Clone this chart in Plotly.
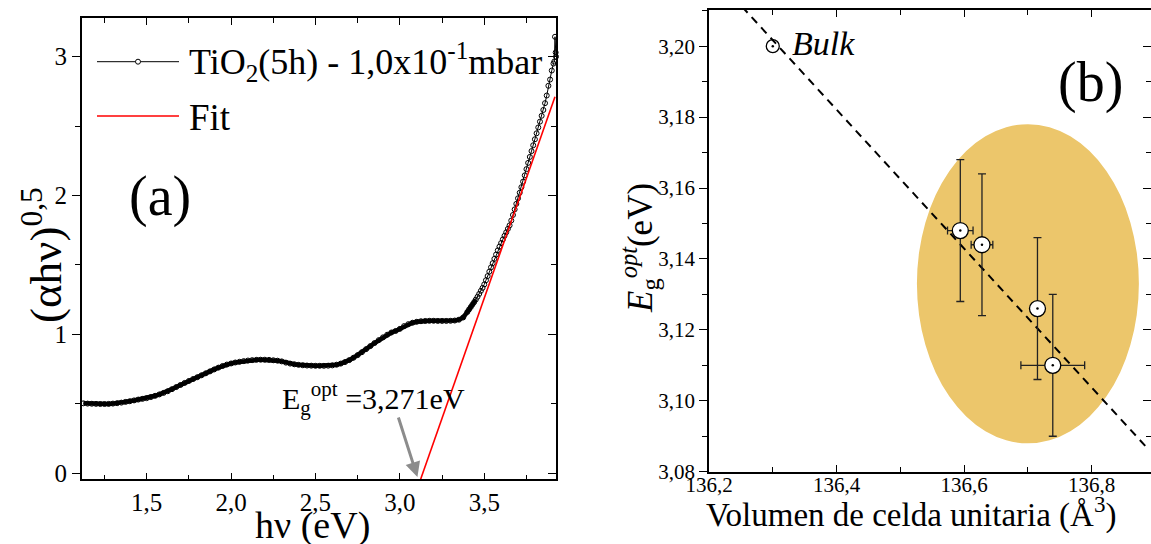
import plotly.graph_objects as go

W, H = 1151, 544
FONT = "Liberation Serif"

# ---------------- Panel (a) data ----------------
hv = [1.125, 1.15, 1.175, 1.20, 1.225, 1.25, 1.275, 1.30, 1.325, 1.35, 1.375, 1.40,
      1.425, 1.45, 1.475, 1.50, 1.525, 1.55, 1.575, 1.60, 1.625, 1.65, 1.675, 1.70,
      1.725, 1.75, 1.775, 1.80, 1.825, 1.85, 1.875, 1.90, 1.925, 1.95, 1.975, 2.00,
      2.025, 2.05, 2.075, 2.10, 2.125, 2.15, 2.175, 2.20, 2.225, 2.25, 2.275, 2.30,
      2.325, 2.35, 2.375, 2.40, 2.425, 2.45, 2.475, 2.50, 2.525, 2.55, 2.575, 2.60,
      2.625, 2.65, 2.675, 2.70, 2.725, 2.75, 2.775, 2.80, 2.825, 2.85, 2.875, 2.90,
      2.925, 2.95, 2.975, 3.00, 3.025, 3.05, 3.075, 3.10, 3.125, 3.15, 3.175, 3.20,
      3.225, 3.25, 3.275, 3.30, 3.325, 3.35, 3.375, 3.40,
      3.41, 3.42, 3.43, 3.44, 3.45, 3.46, 3.47, 3.48, 3.49, 3.50, 3.51, 3.52, 3.53,
      3.54, 3.55, 3.56, 3.57, 3.58, 3.59, 3.60, 3.61, 3.62, 3.63, 3.64, 3.65, 3.66,
      3.67, 3.68, 3.69, 3.70, 3.71, 3.72, 3.73, 3.74, 3.75, 3.76, 3.77, 3.78, 3.79,
      3.80, 3.81, 3.82, 3.83, 3.84, 3.85, 3.86, 3.87, 3.88, 3.89, 3.90, 3.91, 3.915,
      3.919, 3.923, 3.925]
ahv = [0.504, 0.502, 0.501, 0.500, 0.499, 0.499, 0.500, 0.502, 0.505, 0.509, 0.514, 0.519,
       0.525, 0.531, 0.536, 0.541, 0.549, 0.558, 0.568, 0.579, 0.591, 0.606, 0.621, 0.636,
       0.651, 0.665, 0.679, 0.692, 0.706, 0.720, 0.734, 0.748, 0.761, 0.773, 0.783, 0.791,
       0.798, 0.803, 0.808, 0.812, 0.815, 0.817, 0.818, 0.818, 0.817, 0.814, 0.811, 0.806,
       0.797, 0.790, 0.785, 0.781, 0.778, 0.776, 0.775, 0.774, 0.774, 0.774, 0.775, 0.777,
       0.782, 0.790, 0.801, 0.815, 0.832, 0.851, 0.872, 0.894, 0.916, 0.938, 0.959, 0.979,
       0.998, 1.014, 1.025, 1.040, 1.060, 1.074, 1.084, 1.091, 1.095, 1.097, 1.098, 1.098,
       1.097, 1.097, 1.097, 1.098, 1.100, 1.106, 1.122, 1.162,
       1.180, 1.197, 1.215, 1.232, 1.251, 1.271, 1.292, 1.314, 1.335, 1.360, 1.390, 1.420,
       1.452, 1.483, 1.513, 1.544, 1.575, 1.605, 1.632, 1.658, 1.684, 1.710, 1.735, 1.760,
       1.785, 1.820, 1.860, 1.900, 1.940, 1.980, 2.020, 2.060, 2.100, 2.145, 2.190, 2.235,
       2.278, 2.320, 2.362, 2.405, 2.448, 2.490, 2.532, 2.574, 2.616, 2.665, 2.720, 2.790,
       2.835, 2.900, 2.950, 2.965, 3.143, 3.030, 3.000]
dense_until = 3.45          # points below this energy are packed so tightly they form a band
fit_a_x = [3.123, 3.919]
fit_a_y = [-0.043, 2.711]
series_a_name = "TiO<sub>2</sub>(5h) - 1,0x10<sup>-1</sup>mbar"
fit_name = "Fit"
eg_label = "E<sub>g</sub><sup>opt</sup> =3,271eV"
eg_arrow_at = (3.104, -0.027)

# ---------------- Panel (b) data ----------------
vol = [136.594, 136.628, 136.715, 136.739]
eg = [3.148, 3.144, 3.126, 3.110]
eg_err = [0.020, 0.020, 0.020, 0.020]
vol_err = [0.020, 0.017, 0.0, 0.050]
bulk_vol = [136.300]
bulk_eg = [3.200]
trend_x = [136.252, 136.888]
trend_y = [3.2111, 3.0865]
ellipse_x = [136.526, 136.874]
ellipse_y = [3.088, 3.178]


def px(x, y):
    return x / W, 1 - y / H


fig = go.Figure()

# ---- panel (a) traces
band_x = [v for v in hv if v <= dense_until]
band_y = [a for v, a in zip(hv, ahv) if v <= dense_until]
fig.add_trace(go.Scatter(
    x=band_x, y=band_y, mode="lines", xaxis="x", yaxis="y",
    line=dict(color="black", width=4.5), showlegend=False))
fig.add_trace(go.Scatter(
    x=hv, y=ahv, mode="lines+markers", xaxis="x", yaxis="y",
    line=dict(color="black", width=1),
    marker=dict(symbol="circle-open", size=5, color="black", line=dict(width=1)),
    showlegend=False, cliponaxis=False))
fig.add_trace(go.Scatter(
    x=fit_a_x, y=fit_a_y, mode="lines", xaxis="x", yaxis="y",
    line=dict(color="red", width=1.6), showlegend=False))
fig.add_trace(go.Scatter(x=[], y=[], xaxis="x", yaxis="y3", showlegend=False))

# ---- panel (b) traces
fig.add_trace(go.Scatter(
    x=trend_x, y=trend_y, mode="lines", xaxis="x2", yaxis="y2",
    line=dict(color="black", width=2, dash="8px,6px"), showlegend=False))
fig.add_trace(go.Scatter(
    x=bulk_vol, y=bulk_eg, mode="markers", xaxis="x2", yaxis="y2",
    marker=dict(symbol="circle-open", size=13, color="black", line=dict(width=1.3)),
    showlegend=False))
fig.add_trace(go.Scatter(
    x=vol, y=eg, mode="markers", xaxis="x2", yaxis="y2",
    error_y=dict(type="data", array=eg_err, color="#222222", thickness=1.3, width=4),
    error_x=dict(type="data", array=vol_err, color="#222222", thickness=1.3, width=4),
    marker=dict(symbol="circle", size=16, color="white", line=dict(color="black", width=1.3)),
    showlegend=False))
fig.add_trace(go.Scatter(
    x=vol + bulk_vol, y=eg + bulk_eg, mode="markers", xaxis="x2", yaxis="y2",
    marker=dict(symbol="circle", size=2.5, color="black"), showlegend=False))
fig.add_trace(go.Scatter(x=[], y=[], xaxis="x2", yaxis="y4", showlegend=False))

axis_common = dict(showgrid=False, zeroline=False, showline=True, linecolor="black",
                   linewidth=1.5, tickcolor="black", tickwidth=1.3, automargin=False)

shapes = [
    dict(type="circle", xref="x2", yref="y2", x0=ellipse_x[0], x1=ellipse_x[1],
         y0=ellipse_y[0], y1=ellipse_y[1], fillcolor="#ECC66B",
         line=dict(width=0), layer="below"),
]
# legend samples for panel (a)
lx0, lx1 = px(97, 0)[0], px(179, 0)[0]
shapes.append(dict(type="line", xref="paper", yref="paper", x0=lx0, x1=lx1,
                   y0=px(0, 61.7)[1], y1=px(0, 61.7)[1], line=dict(color="black", width=1)))
shapes.append(dict(type="circle", xref="paper", yref="paper", xsizemode="pixel",
                   ysizemode="pixel", xanchor=px(138, 0)[0], yanchor=px(0, 61.7)[1],
                   x0=-2.5, x1=2.5, y0=-2.5, y1=2.5, fillcolor="white",
                   line=dict(color="black", width=1)))
shapes.append(dict(type="line", xref="paper", yref="paper", x0=lx0, x1=lx1,
                   y0=px(0, 116)[1], y1=px(0, 116)[1], line=dict(color="red", width=1.6)))


def ann(text, x, y, size, xanchor="center", yanchor="middle", angle=0, italic=False):
    X, Y = px(x, y)
    t = f"<i>{text}</i>" if italic else text
    return dict(text=t, x=X, y=Y, xref="paper", yref="paper", showarrow=False,
                xanchor=xanchor, yanchor=yanchor, textangle=angle,
                font=dict(family=FONT, size=size, color="black"))


annotations = [
    ann(series_a_name, 186.7, 62, 36, xanchor="left"),
    ann(fit_name, 186.7, 117, 37, xanchor="left"),
    ann("(a)", 160, 197, 56),
    ann("(b)", 1090, 82, 56),
    ann("Bulk", 790, 43, 34, xanchor="left", italic=True),
    ann("hν (eV)", 312, 525, 38),
    ann("(αhν)<sup>0,5</sup>", 42, 255, 45, angle=-90),
    ann("Volumen de celda unitaria (Å<sup>3</sup>)", 911, 512, 33),
    ann("<i>E</i><sub>g</sub><sup><i>opt</i></sup>(eV)", 640, 248, 35, angle=-90),
    ann(eg_label, 280, 398, 30, xanchor="left"),
    dict(text="", x=eg_arrow_at[0], y=eg_arrow_at[1], xref="x", yref="y",
         ax=-19.5, ay=-61, showarrow=True, arrowhead=2, arrowsize=1,
         arrowwidth=3, arrowcolor="#8c8c8c", standoff=0),
]

fig.update_layout(
    width=W, height=H, margin=dict(l=0, r=0, t=0, b=0, autoexpand=False),
    paper_bgcolor="white", plot_bgcolor="white", separators=", ",
    font=dict(family=FONT, color="black"),
    xaxis=dict(axis_common, domain=[81.7 / W, 556 / W], range=[1.115, 3.925], anchor="y",
               dtick=0.5, tick0=0, tickformat=".1f", ticks="inside", ticklen=7,
               mirror="ticks", tickfont=dict(family=FONT, size=25, color="black"),
               minor=dict(dtick=0.25, tick0=0, ticks="inside", ticklen=5, tickcolor="black")),
    yaxis=dict(axis_common, domain=[1 - 479.3 / H, 1 - 18.3 / H], range=[-0.043, 3.276],
               anchor="x", dtick=1, tick0=0, ticks="outside", ticklen=8, mirror=True,
               tickfont=dict(family=FONT, size=25, color="black"),
               minor=dict(dtick=0.5, tick0=0, ticks="outside", ticklen=5, tickcolor="black")),
    yaxis3=dict(overlaying="y", side="right", anchor="x", range=[-0.043, 3.276],
                showgrid=False, zeroline=False, showline=False, showticklabels=False,
                automargin=False,
                dtick=1, tick0=0, ticks="inside", ticklen=8, tickcolor="black", tickwidth=1.3,
                minor=dict(dtick=0.5, tick0=0, ticks="inside", ticklen=5, tickcolor="black")),
    xaxis2=dict(axis_common, domain=[709 / W, 1.0], range=[136.2, 136.893], anchor="y2",
                dtick=0.2, tick0=136.2, tickformat=".1f", ticks="inside", ticklen=7,
                mirror="ticks", tickfont=dict(family=FONT, size=21, color="black"),
                ticklabelstandoff=-7,
                minor=dict(dtick=0.1, tick0=136.2, ticks="inside", ticklen=5, tickcolor="black")),
    yaxis2=dict(axis_common, domain=[1 - 471.7 / H, 1 - 10 / H], range=[3.08, 3.2102],
                anchor="x2", dtick=0.02, tick0=3.08, tickformat=".2f", ticks="outside",
                ticklen=8, mirror=False, tickfont=dict(family=FONT, size=21, color="black"),
                minor=dict(dtick=0.01, tick0=3.08, ticks="outside", ticklen=5, tickcolor="black")),
    yaxis4=dict(overlaying="y2", side="right", anchor="x2", range=[3.08, 3.2102],
                showgrid=False, zeroline=False, showline=False, showticklabels=False,
                automargin=False,
                dtick=0.02, tick0=3.08, ticks="inside", ticklen=8, tickcolor="black",
                tickwidth=1.3,
                minor=dict(dtick=0.01, tick0=3.08, ticks="inside", ticklen=5, tickcolor="black")),
    shapes=shapes,
    annotations=annotations,
)

fig.write_html("out.html")
